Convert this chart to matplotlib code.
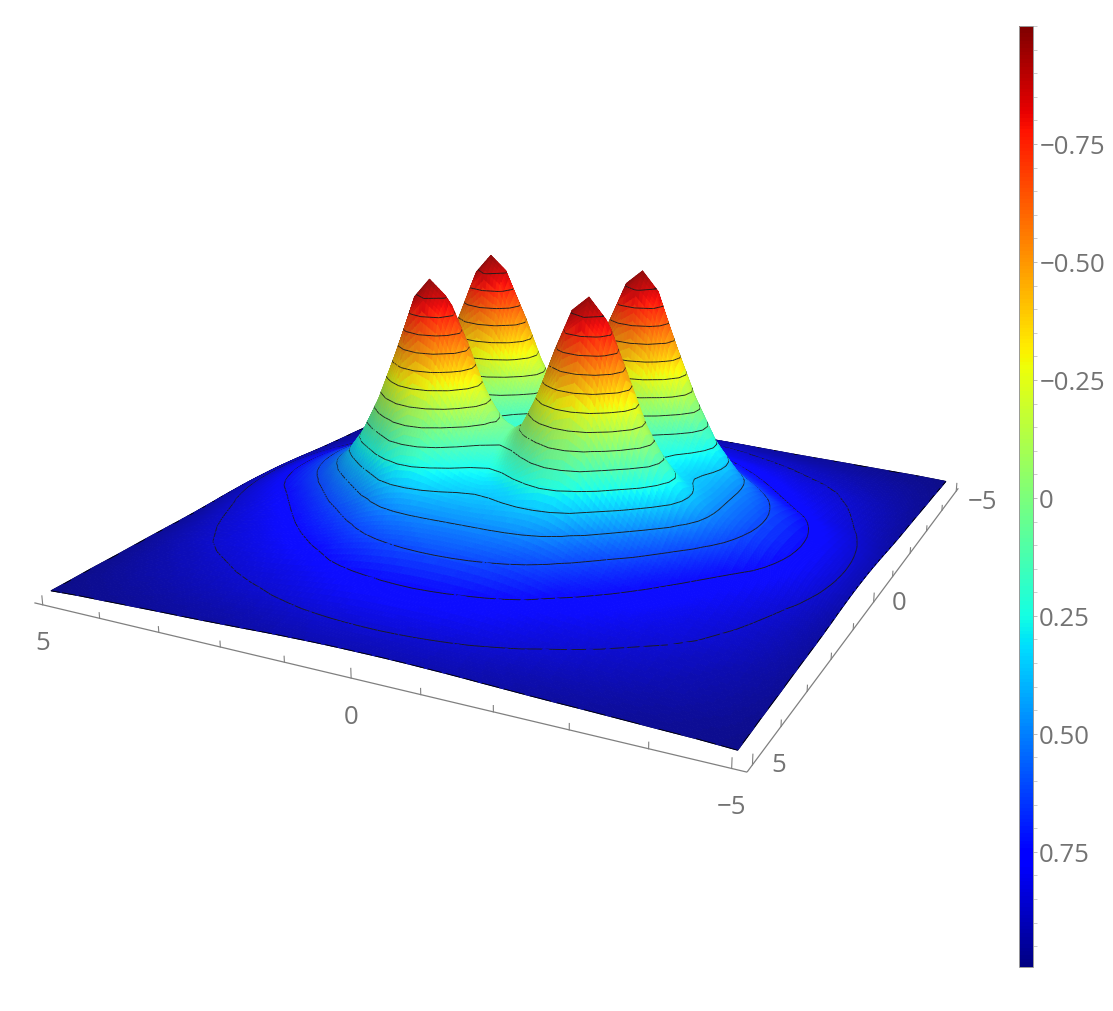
import numpy as np
import matplotlib
matplotlib.use("Agg")
import matplotlib.pyplot as plt
from matplotlib.cm import ScalarMappable
from matplotlib.colors import Normalize
from mpl_toolkits.mplot3d import proj3d
from mpl_toolkits.mplot3d.art3d import Poly3DCollection

plt.rcParams['font.family'] = ['Open Sans', 'DejaVu Sans']

# Heights, one quadrant (surface is mirror-symmetric)
grid_x = [0, .25, .5, .75, 1, 1.25, 1.5, 1.75, 2.05, 2.4, 2.75, 3.1, 3.45, 4.05, 4.5, 4.8, 5]
grid_y = [0, .19, .38, .56, .74, .93, 1.12, 1.32, 1.55, 1.85, 2.2, 2.6, 3.0, 3.6, 4.2, 4.6, 5]
height_quadrant = [
 [.208,.195,.155,.109,.069,.063,.099,.177,.262,.355,.429,.523,.608,.74,.83,.885,.93],
 [.195,.176,.123,.055,-.004,-.019,.026,.122,.23,.34,.426,.524,.61,.742,.831,.886,.93],
 [.155,.123,.028,-.101,-.234,-.274,-.203,-.034,.139,.297,.416,.527,.616,.746,.833,.888,.931],
 [.109,.055,-.101,-.34,-.535,-.606,-.502,-.274,.017,.239,.406,.535,.626,.754,.838,.891,.933],
 [.069,-.004,-.234,-.535,-.797,-.894,-.762,-.464,-.108,.193,.407,.55,.642,.765,.844,.895,.936],
 [.063,-.019,-.274,-.606,-.894,-1.0,-.859,-.524,-.139,.199,.429,.575,.663,.779,.851,.90,.939],
 [.099,.026,-.203,-.502,-.762,-.859,-.72,-.412,-.061,.265,.478,.608,.69,.795,.86,.908,.943],
 [.177,.122,-.034,-.274,-.464,-.524,-.412,-.175,.133,.375,.546,.649,.725,.814,.87,.915,.948],
 [.262,.23,.139,.017,-.108,-.139,-.061,.133,.328,.497,.613,.697,.754,.833,.882,.923,.953],
 [.355,.34,.297,.239,.193,.199,.265,.375,.497,.598,.679,.741,.783,.848,.893,.932,.959],
 [.429,.426,.416,.406,.407,.429,.478,.546,.613,.679,.736,.775,.812,.863,.905,.939,.964],
 [.523,.524,.527,.535,.55,.575,.608,.649,.697,.741,.775,.81,.838,.88,.917,.946,.968],
 [.608,.61,.616,.626,.642,.663,.69,.725,.754,.783,.812,.838,.857,.895,.93,.954,.973],
 [.74,.742,.746,.754,.765,.779,.795,.814,.833,.848,.863,.88,.895,.926,.949,.968,.982],
 [.83,.831,.833,.838,.844,.851,.86,.87,.882,.893,.905,.917,.93,.949,.966,.98,.988],
 [.885,.886,.888,.891,.895,.90,.908,.915,.923,.932,.939,.946,.954,.968,.98,.987,.995],
 [.93,.93,.931,.933,.936,.939,.943,.948,.953,.959,.964,.968,.973,.982,.988,.995,1.0],
]
contour_levels = [.875, .75, .625, .5, .375, .25, .125, 0, -.125, -.25, -.375, -.5, -.625, -.75, -.875]
axis_ticks = [-5, -4, -3, -2, -1, 0, 1, 2, 3, 4, 5]
axis_labels = ['\u22125', '0', '5']
axis_label_vals = [-5, 0, 5]
colorbar_ticks = [-.75, -.5, -.25, 0, .25, .5, .75]
colorbar_labels = ['\u22120.75', '\u22120.50', '\u22120.25', '0', '0.25', '0.50', '0.75']

W, H_px = 1113, 1012
ELEV, AZIM, FOCAL, ZOOM, ZBOX = 17, 116.5, .3, .955, .395
SHIFT_X, SHIFT_Y = -33, 85   # px offset of the 3-D axes (y up)
TXT = '#737373'
AX = '#808080'

gx = np.array(grid_x, float)
gy = np.array(grid_y, float)
q = np.array(height_quadrant)
pos_x = np.concatenate((-gx[:0:-1], gx))
pos_y = np.concatenate((-gy[:0:-1], gy))
top = np.hstack((q[:0:-1, :0:-1], q[:0:-1]))
bot = np.hstack((q[:, :0:-1], q))
H = np.vstack((top, bot))

fig = plt.figure(figsize=(W / 100, H_px / 100), dpi=100)
ax = fig.add_axes([SHIFT_X / W, SHIFT_Y / H_px, 1, 1], projection='3d')
ax.set_proj_type('persp', focal_length=FOCAL)
ax.view_init(elev=ELEV, azim=AZIM)
ax.set_box_aspect((1, 1, ZBOX), zoom=ZOOM)
ax.set_xlim(-5, 5); ax.set_ylim(-5, 5); ax.set_zlim(-1, 1)
ax.set_axis_off()
ax.patch.set_alpha(0)

# Each table cell keeps its bilinear geometry and is split only so colour varies smoothly
N = 5
idx = np.arange(len(pos_x))
u = np.arange(0, len(pos_x) - 1 + 1e-9, 1 / N)
def refine(A):
    A = np.array([np.interp(u, idx, row) for row in A])
    return np.array([np.interp(u, idx, col) for col in A.T]).T
xf = np.interp(u, idx, pos_x)
yf = np.interp(u, idx, pos_y)
X, Y = np.meshgrid(xf, yf)
Z = -refine(H)
dHy, dHx = np.gradient(H, pos_y, pos_x)
Gx = refine(dHx); Gy = refine(dHy)

def corners(A):
    return np.stack((A[:-1, :-1], A[:-1, 1:], A[1:, 1:], A[1:, :-1]), axis=-1)

quads = np.stack((corners(X), corners(Y), corners(Z)), axis=-1).reshape(-1, 4, 3)
h_mean = -quads[:, :, 2].mean(axis=1)
cmap = plt.get_cmap('jet_r')
norm = Normalize(-1, 1)
rgba = cmap(norm(h_mean))

# soft lighting from smooth normals in box units
sx, sy, sz = .1, .1, ZBOX / 2
gxm = corners(Gx).mean(axis=-1).ravel()
gym = corners(Gy).mean(axis=-1).ravel()
n = np.column_stack((gxm * sz / sx, gym * sz / sy, np.ones_like(gxm)))
n /= np.linalg.norm(n, axis=1, keepdims=True)
L = np.array([-.45, .3, .85]); L = L / np.linalg.norm(L)
shade = np.clip(.68 + .42 * (n @ L), .55, 1.05)
rgba[:, :3] = np.clip(rgba[:, :3] * shade[:, None], 0, 1) * .95 + .05

# contour segments, cut short and lifted a hair towards the viewer so they sort in front of their cells
tmp_fig, tmp_ax = plt.subplots()
cs = tmp_ax.contour(pos_x, pos_y, H, levels=sorted(contour_levels))
levels = cs.levels
el, az = np.radians(ELEV), np.radians(AZIM)
d = .005
lift = np.array([d * np.cos(el) * np.cos(az) / sx, d * np.cos(el) * np.sin(az) / sy, d * np.sin(el) / sz])
segs = []
for lev, seglist in zip(levels, cs.allsegs):
    for s in seglist:
        p = np.column_stack((s, np.full(len(s), -lev))) + lift
        for i in range(len(p) - 1):
            t = np.linspace(0, 1, 5)[:, None]
            piece = p[i] + (p[i + 1] - p[i]) * t
            segs += [piece[k:k + 2] for k in range(4)]
n_contour = len(segs)
plt.close(tmp_fig)
# black outline of the surface boundary (no lift: sits exactly on the edge)
for px, py, pz in ((pos_x, np.full_like(pos_x, 5.0), -H[-1, :]), (pos_x, np.full_like(pos_x, -5.0), -H[0, :]),
                   (np.full_like(pos_y, 5.0), pos_y, -H[:, -1]), (np.full_like(pos_y, -5.0), pos_y, -H[:, 0])):
    p = np.column_stack((px, py, pz))
    segs += [p[i:i + 2] for i in range(len(p) - 1)]

verts = list(quads) + segs
face = np.vstack((rgba, np.zeros((len(segs), 4))))
edge = np.vstack((rgba, np.tile(matplotlib.colors.to_rgba('#1c1c1c'), (n_contour, 1)),
                  np.tile((0, 0, 0, 1), (len(segs) - n_contour, 1))))
coll = Poly3DCollection(verts, linewidths=.65, zsort='average')
coll.set_facecolor(face)
coll.set_edgecolor(edge)
ax.add_collection3d(coll)

# axes drawn under the floor, offset from the surface
off = 5.18
ext = 5.15
floor = -1.07
kw = dict(color=AX, lw=.9, solid_capstyle='butt')
ax.plot([ext, -off], [off, off], [floor, floor], **kw)
ax.plot([-off, -off], [off, -ext], [floor, floor], **kw)
tick_len = .1
for t in axis_ticks:
    k = 1.6 if t in (-5, 0, 5) else 1
    ax.plot([t, t], [off, off], [floor, floor + tick_len * k * .42], color=AX, lw=.8)
    ax.plot([-off, -off], [t, t], [floor, floor + tick_len * k * .42], color=AX, lw=.8)
M = ax.get_proj()
tkw = dict(color=TXT, fontsize=18.5, ha='center', va='center', textcoords='offset pixels', annotation_clip=False)
for t, lab in zip(axis_label_vals, axis_labels):
    x2, y2, _ = proj3d.proj_transform(t, off, floor, M)
    ax.annotate(lab, (x2, y2), xytext=(0, -38), **tkw)
    x2, y2, _ = proj3d.proj_transform(-off, t, floor, M)
    ax.annotate(lab, (x2, y2), xytext=(26, -10 if t == -5 else 0), **tkw)

# colour bar
cax = fig.add_axes([1019 / W, 1 - 968 / H_px, 14 / W, 941 / H_px])
cb = fig.colorbar(ScalarMappable(norm=norm, cmap=cmap), cax=cax)
cax.set_ylim(.994, -1)
cb.set_ticks(colorbar_ticks, labels=colorbar_labels)
cb.ax.set_yticks(np.arange(-20, 20) * .05, minor=True)
cax.set_ylim(.994, -1)
cax.tick_params(axis='y', which='major', length=3, width=.7, color='#bbbbbb', labelsize=18.5, labelcolor=TXT, pad=1.5)
cax.tick_params(axis='y', which='minor', length=3, width=.7, color='#cccccc')
cb.outline.set_edgecolor('#999999')
cb.outline.set_linewidth(.7)

fig.savefig('out.png', dpi=100, facecolor='white')
